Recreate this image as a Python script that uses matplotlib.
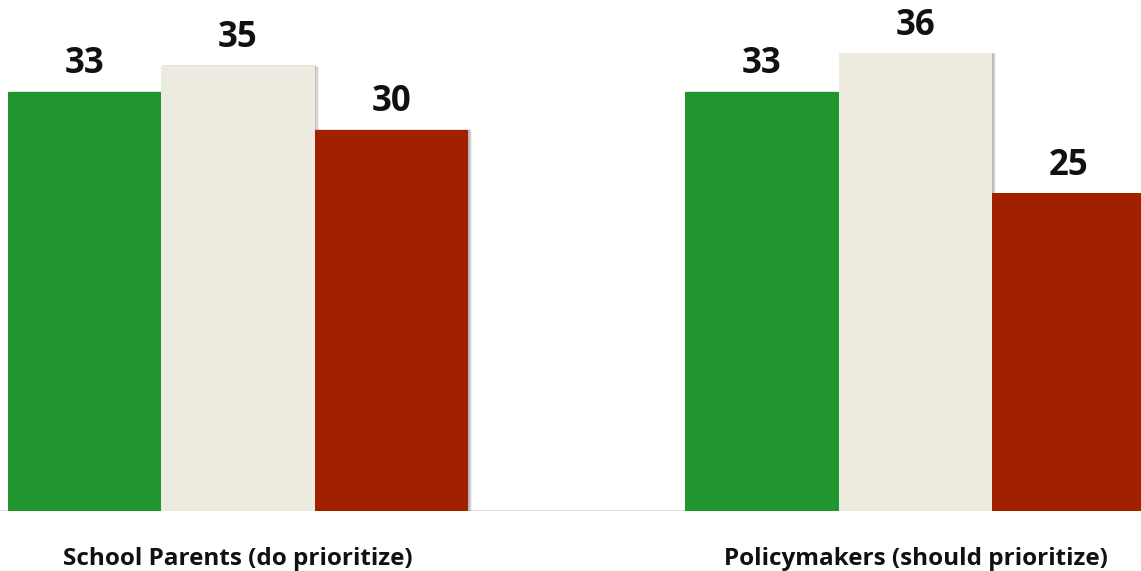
import matplotlib
matplotlib.use("Agg")
import matplotlib.pyplot as plt
import matplotlib.patheffects as pe
import numpy as np

# Survey shares (%) per respondent group
groups = ["School Parents (do prioritize)", "Policymakers (should prioritize)"]
green_vals = [33, 33]
beige_vals = [35, 36]
red_vals = [30, 25]

GREEN = "#21962F"
BEIGE = "#EDEAE0"
RED = "#A02000"

fig = plt.figure(figsize=(11.41, 5.71), dpi=100)
ax = fig.add_axes([0, 60 / 571, 1, 511 / 571])

x = np.arange(len(groups))
width = 0.2266

# soft right-hand drop shadow, built from a few stacked offsets
shadow = [
    pe.SimplePatchShadow(offset=(3.0, -0.5), shadow_rgbFace="#000000", alpha=0.06),
    pe.SimplePatchShadow(offset=(2.0, 0.0), shadow_rgbFace="#000000", alpha=0.10),
    pe.SimplePatchShadow(offset=(1.0, 0.5), shadow_rgbFace="#000000", alpha=0.12),
    pe.Normal(),
]

series = [(green_vals, GREEN, -1), (beige_vals, BEIGE, 0), (red_vals, RED, 1)]
for vals, color, k in series:
    bars = ax.bar(x + k * width, vals, width, color=color, linewidth=0, zorder=2)
    for b in bars:
        b.set_path_effects(shadow)
    for xi, v in zip(x + k * width, vals):
        ax.annotate(str(v), (xi, v), xytext=(0, 7), textcoords="offset points",
                    ha="center", va="bottom", fontsize=25, fontweight="bold",
                    family="Open Sans", color="#111111")

ax.set_xlim(-0.3513, 1.3328)
ax.set_ylim(0, 511 / 12.71)
ax.axhline(0, color="#D9D9D9", linewidth=1.2, zorder=1)

for spine in ax.spines.values():
    spine.set_visible(False)
ax.set_yticks([])
ax.set_xticks(x)
ax.set_xticklabels(groups, fontsize=17.5, fontweight="bold", family="Open Sans", color="#111111")
ax.tick_params(axis="x", length=0, pad=26)

fig.savefig("out.png", dpi=100)
